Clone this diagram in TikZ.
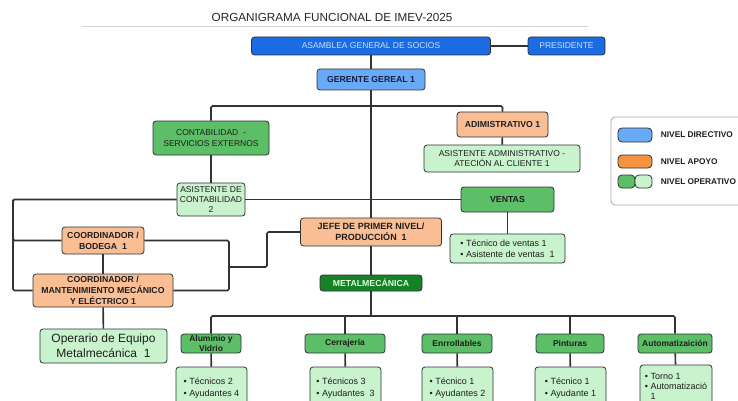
\documentclass[tikz,border=0pt]{standalone}
\usepackage{fontspec}
\setmainfont{Liberation Sans}
\usetikzlibrary{positioning}
\definecolor{azulfuerte}{RGB}{27,107,226}
\definecolor{azultexto}{RGB}{200,225,255}
\definecolor{azulclaro}{RGB}{104,170,245}
\definecolor{azulmarino}{RGB}{20,30,70}
\definecolor{naranja}{RGB}{249,190,148}
\definecolor{naranjafuerte}{RGB}{247,146,62}
\definecolor{verde}{RGB}{92,190,102}
\definecolor{verdeclaro}{RGB}{200,243,204}
\definecolor{verdeoscuro}{RGB}{22,130,38}
\definecolor{verdetexto}{RGB}{225,250,225}
\definecolor{borde}{RGB}{45,50,55}
\definecolor{linea}{RGB}{50,50,50}
\definecolor{texto}{RGB}{30,30,30}
\definecolor{titulo}{RGB}{40,40,40}

\begin{document}
\begin{tikzpicture}[x=1pt,y=-1pt,font=\fontsize{8.5}{10.5}\selectfont,
    caja/.style={draw=borde,rounded corners=3pt,line width=.8pt,inner sep=1pt,align=center,text=texto},
    negrita/.style={font=\fontsize{8.7}{11}\selectfont\bfseries},
    directivo/.style={caja,fill=azulfuerte,text=azultexto},
    gerencia/.style={caja,negrita,fill=azulclaro,text=azulmarino},
    apoyo/.style={caja,negrita,fill=naranja},
    area/.style={caja,fill=verde},
    lista/.style={caja,fill=verdeclaro,font=\fontsize{9}{11.5}\selectfont,align=left},
    enlace/.style={draw=linea,line width=1.6pt,rounded corners=1.5pt}]
        \useasboundingbox (0,0) rectangle (738,401);
        \clip (0,0) rectangle (738,401);
        \fill[white] (0,0) rectangle (738,401);
        % titulo
        \node[font=\fontsize{11.7}{14}\selectfont,text=titulo] (titulo) at (332,17) {ORGANIGRAMA FUNCIONAL DE IMEV-2025};
        \draw[gray!35,line width=.8pt] (82,26) -- (588,26);
        % nivel directivo
        \node[directivo,minimum width=239pt,minimum height=18pt] (asamblea) at (371,46) {ASAMBLEA GENERAL DE SOCIOS};
        \node[directivo,minimum width=77pt,minimum height=18pt] (presidente) at (566.5,46) {PRESIDENTE};
        \node[gerencia,minimum width=108pt,minimum height=21pt] (gerente) at (371,79.5) {GERENTE GEREAL 1};
        % apoyo y areas
        \node[area,minimum width=116pt,minimum height=34pt] (contab) at (211,138) {CONTABILIDAD~~-\\SERVICIOS EXTERNOS};
        \node[apoyo,minimum width=91pt,minimum height=25pt] (admin) at (502.5,124.5) {ADIMISTRATIVO 1};
        \node[caja,fill=verdeclaro,minimum width=156pt,minimum height=27pt] (asisadm) at (502,158.5) {ASISTENTE ADMINISTRATIVO -\\ATECIÓN AL CLIENTE 1};
        \node[caja,fill=verdeclaro,font=\fontsize{8.5}{10}\selectfont,inner sep=0pt,minimum width=68pt,minimum height=33pt] (asiscont) at (211,199.5) {ASISTENTE DE\\CONTABILIDAD\\2};
        \node[area,negrita,minimum width=93pt,minimum height=25pt] (ventas) at (507.5,199.5) {VENTAS};
        \node[lista,minimum width=115pt,minimum height=29pt] (ventlista) at (507.5,248.5) {• Técnico de ventas 1\\• Asistente de ventas~~1};
        \node[apoyo,font=\fontsize{9}{11}\selectfont\bfseries,minimum width=141pt,minimum height=28pt] (jefe) at (371,232) {JEFE DE PRIMER NIVEL/\\PRODUCCIÓN~~1};
        \node[apoyo,minimum width=82pt,minimum height=27pt] (bodega) at (103,240.5) {COORDINADOR /\\BODEGA~~1};
        \node[apoyo,minimum width=140pt,minimum height=33pt] (mant) at (103,290.5) {COORDINADOR /\\MANTENIMIENTO MECÁNICO\\Y ELÉCTRICO 1};
        \node[caja,fill=verdeclaro,font=\fontsize{12}{15}\selectfont,minimum width=127pt,minimum height=34pt] (operario) at (103.5,346) {Operario de Equipo\\Metalmecánica~~1};
        \node[caja,negrita,fill=verdeoscuro,text=verdetexto,minimum width=102pt,minimum height=16pt] (metal) at (371,283) {METALMECÁNICA};
        % talleres
        \foreach \n/\x/\w/\t in {alu/211/60/{Aluminio y\\Vidrio},cerr/345/80/Cerrajería,enro/457/70/Enrrollables,pint/570/68/Pinturas,auto/675/74/Automatizaición}
          \node[area,font=\fontsize{8.5}{9.5}\selectfont\bfseries,inner sep=0pt,minimum width=\w pt,minimum height=19pt] (\n) at (\x,343.5) {\t};
        \foreach \n/\x/\t in {alu/211.5/{• Técnicos 2\\• Ayudantes 4},cerr/345.5/{• Técnicos 3\\• Ayudantes~~3},enro/457.5/{• Técnico 1\\• Ayudantes 2},pint/570.5/{• Técnico 1\\• Ayudante 1}}
          \node[lista,minimum width=71pt,minimum height=42pt] (\n-l) at (\x,388) {\t};
        \node[lista,font=\fontsize{9}{10}\selectfont,minimum width=72pt,minimum height=42pt] (auto-l) at (676,386) {• Torno 1\\• Automatizació\\\hphantom{• }1};
        % enlaces
        \coordinate (rama1) at (371,106);
        \coordinate (izq) at (13,199.5);
        \coordinate (der) at (229,267);
        \coordinate (codo) at (267,267);
        \coordinate (rama2) at (371,316);
        \draw[enlace] (asamblea) -- (presidente);
        \draw[enlace] (asamblea) -- (gerente);
        \draw[enlace] (gerente) -- (jefe);
        \draw[enlace] (jefe) -- (metal);
        \draw[enlace] (contab.north) |- (rama1) -| (admin.north);
        \draw[enlace] (contab) -- (asiscont);
        \draw[enlace] (admin) -- (asisadm);
        \draw[enlace] (asiscont) -- (ventas);
        \draw[enlace] (asiscont) -- (izq) |- (bodega);
        \draw[enlace] (izq) |- (mant);
        \draw[enlace] (bodega) -- (mant);
        \draw[enlace] (bodega) -| (der) |- (mant);
        \draw[enlace] (der) -- (codo) |- (jefe);
        \draw[enlace] (ventas) -- (ventlista);
        \draw[enlace] (mant) -- (operario);
        \draw[enlace] (metal) -- (rama2);
        \draw[enlace] (alu.north) |- (rama2) -| (auto.north);
        \foreach \n in {cerr,enro,pint} \draw[enlace] (\n.north) -- (\n.north |- rama2);
        \foreach \n in {alu,cerr,enro,pint,auto} \draw[enlace] (\n) -- (\n-l);
        % leyenda
        \node[draw=gray!70,rounded corners=4pt,line width=.8pt,fill=white,minimum width=135pt,minimum height=88pt] (leyenda) at (678.5,161) {};
        \node[caja,fill=azulclaro,rounded corners=4pt,minimum width=34pt,minimum height=14pt] (muestra1) at (635,135) {};
        \node[caja,fill=naranjafuerte,rounded corners=4pt,minimum width=34pt,minimum height=13pt] (muestra2) at (635,161.5) {};
        \node[caja,fill=verde,rounded corners=4pt,minimum width=17pt,minimum height=13pt] (muestra3a) at (626.5,181.5) {};
        \node[caja,fill=verdeclaro,rounded corners=4pt,minimum width=17pt,minimum height=13pt] (muestra3b) at (643.5,181.5) {};
        \node[negrita,font=\fontsize{8.3}{10}\selectfont\bfseries,text=texto,right=5pt of muestra1] (ley1) {NIVEL DIRECTIVO};
        \node[negrita,font=\fontsize{8.3}{10}\selectfont\bfseries,text=texto,right=5pt of muestra2] (ley2) {NIVEL APOYO};
        \node[negrita,font=\fontsize{8.3}{10}\selectfont\bfseries,text=texto,right=5pt of muestra3b] (ley3) {NIVEL OPERATIVO};
      \end{tikzpicture}
\end{document}
